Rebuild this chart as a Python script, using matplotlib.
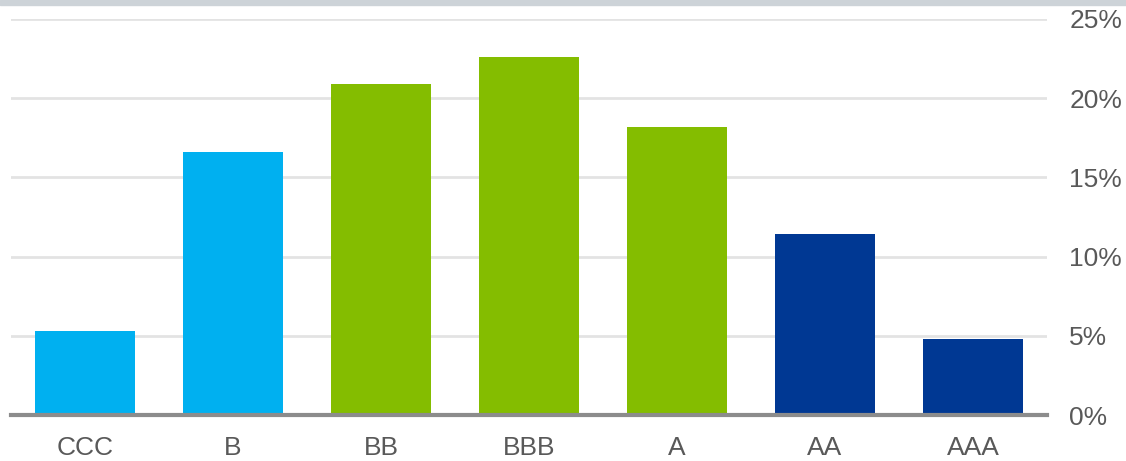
import numpy as np
import matplotlib.pyplot as plt
from matplotlib.ticker import FuncFormatter

plt.rcParams['font.family'] = ['Liberation Sans', 'DejaVu Sans']

ratings = ['CCC', 'B', 'BB', 'BBB', 'A', 'AA', 'AAA']
shares = [5.3, 16.6, 20.9, 22.6, 18.2, 11.4, 4.8]
colors = ['#00b0f0', '#00b0f0', '#84bd00', '#84bd00', '#84bd00', '#003893', '#003893']
yticks = [0, 5, 10, 15, 20, 25]

fig = plt.figure(figsize=(11.26, 4.61), dpi=100)
ax = fig.add_axes([11/1126, 1 - 415/461, 1036/1126, 396/461])

x = np.arange(len(ratings))
ax.bar(x, shares, width=0.67, color=colors, zorder=3)

ax.set_xlim(-0.5, len(ratings) - 0.5)
ax.set_ylim(0, 25)
ax.set_xticks(x)
ax.set_xticklabels(ratings)
ax.set_yticks(yticks)
ax.yaxis.set_major_formatter(FuncFormatter(lambda v, p: f'{v:.0f}%'))
ax.yaxis.tick_right()
ax.tick_params(axis='both', length=0, labelsize=19, labelcolor='#595959')
ax.tick_params(axis='y', pad=16)
ax.tick_params(axis='x', pad=15)

ax.grid(axis='y', color='#e3e3e3', linewidth=2, zorder=0)
for s in ['top', 'left', 'right']:
    ax.spines[s].set_visible(False)
ax.spines['bottom'].set_color('#8c8c8c')
ax.spines['bottom'].set_linewidth(3)
ax.spines['bottom'].set_zorder(4)

# grey band across the top
fig.patches.append(plt.Rectangle((0, 1 - 5/461), 1, 5/461, transform=fig.transFigure,
                                 color='#cdd3d8', zorder=0))

fig.savefig('out.png', dpi=100)
